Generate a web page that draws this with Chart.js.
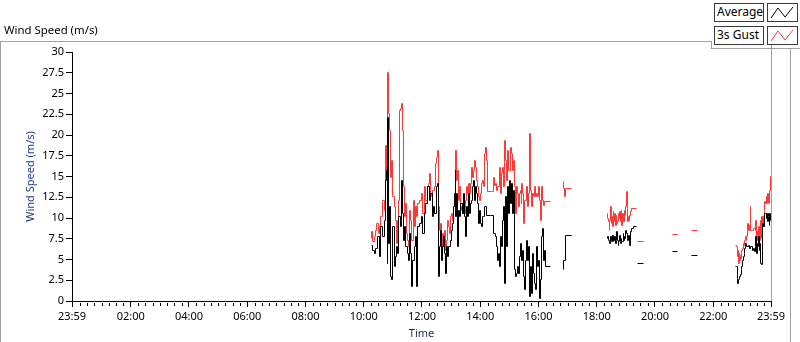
<!DOCTYPE html>
<html><head><meta charset="utf-8">
<script src="https://cdn.jsdelivr.net/npm/chart.js@4/dist/chart.umd.min.js"></script>
<style>
html,body{margin:0;padding:0;background:#fff;width:800px;height:342px;overflow:hidden;}
#wrap{position:relative;width:800px;height:342px;font-family:"Noto Sans",sans-serif;}
#c{position:absolute;left:0;top:0;}
#title{position:absolute;left:4px;top:22px;font-size:11.4px;line-height:16px;color:#000;white-space:nowrap;}
.ln{position:absolute;background:#a0a0a0;}
.lg{position:absolute;box-sizing:border-box;border:1px solid #3a3a3a;background:#fff;font-size:12px;line-height:16px;padding-left:2px;white-space:nowrap;color:#000;}
.ic{position:absolute;box-sizing:border-box;border:1px solid #3a3a3a;background:#fff;}
</style></head>
<body><div id="wrap">
<canvas id="c" width="800" height="342"></canvas>
<div id="title">Wind Speed (m/s)</div>
<div class="ln" style="left:0;top:41px;width:711px;height:1px"></div>
<div class="ln" style="left:0;top:41px;width:1px;height:301px"></div>
<div class="ln" style="left:711px;top:41px;width:1px;height:8px"></div>
<div class="ln" style="left:711px;top:48px;width:89px;height:1px"></div>
<div class="ln" style="left:790px;top:48px;width:1px;height:294px"></div>
<div class="lg" style="left:714px;top:3px;width:50px;height:19px">Average</div>
<div class="ic" style="left:767px;top:3px;width:31px;height:19px"><svg width="29" height="17"><polyline points="3,14 10,4 17,13 25,3" fill="none" stroke="#000" stroke-width="1"/></svg></div>
<div class="lg" style="left:714px;top:26px;width:50px;height:19px">3s Gust</div>
<div class="ic" style="left:767px;top:26px;width:31px;height:19px"><svg width="29" height="17"><polyline points="3,14 10,4 17,13 25,3" fill="none" stroke="#ff3838" stroke-width="1"/></svg></div>
</div>
<script>
// ---- data (time in minutes after midnight; null = no data) ----
const avgTime = [615,618,622,625,628,632,635,639,642,644,646,648,649,651,653,656,658,660,663,665,667,670,672,675,678,680,682,685,687,690,692,695,697,699,701,704,706,708,711,714,718,721,725,728,732,
735,738,741,743,746,749,751,753,754,756,758,761,763,765,767,769,771,773,775,778,780,782,785,787,789,790,792,794,796,798,800,803,805,807,809,811,814,816,818,820,822,825,827,829,831,833,835,837,839,841,843,845,847,849,852,
862,868,871,873,875,877,880,882,884,886,888,890,892,894,896,898,900,902,904,906,908,910,913,915,917,919,921,923,925,927,929,931,933,935,937,939,941,943,946,948,950,952,954,956,958,960,962,964,966,968,970,972,974,985,986,
1011,1012,1015,1027,1028,
1102,1103,1104,1106,1107,1109,1110,1111,1113,1114,1115,1117,1118,1120,1121,1122,1124,1125,1126,1128,1129,1131,1132,1133,1135,1136,1137,1139,1140,1142,1143,1144,1146,1147,1148,1150,1151,1155,1161,1162,
1165,1177,1178,1236,1246,1247,1275,1287,1288,
1366,1368,1370,1371,1373,1374,1375,1377,1378,1379,1381,1382,1384,1385,1386,1389,1392,1395,1397,1400,1403,1404,1407,1408,1410,1411,1412,1414,1415,1417,1418,1419,1421,1422,1423,1425,1428,1429,1430,1432,1433,1434,1435,1436,1437,1438,1439];
const avgValue = [6.8,6.2,5.8,6.4,7.8,5.4,9.0,7.8,9.8,14.6,15.8,4.6,22.2,7.0,11.4,3.0,2.6,9.0,4.2,5.4,6.6,5.8,10.2,9.0,14.6,10.6,7.4,9.0,6.6,5.8,5.0,8.2,5.8,1.8,5.0,6.6,7.8,1.8,9.0,9.4,10.2,8.2,10.6,11.8,13.8,
12.2,13.0,10.2,11.4,10.6,13.8,14.2,11.4,3.0,6.6,8.6,5.0,6.6,7.8,5.8,3.4,6.6,5.4,6.6,7.4,8.6,9.4,11.4,13.0,15.8,10.2,13.0,6.6,11.0,10.2,11.8,10.6,13.0,10.2,7.8,11.4,10.2,13.0,10.6,11.8,12.2,13.8,14.6,12.2,13.8,13.0,11.8,9.4,11.0,9.4,9.0,10.2,10.2,11.4,10.4,
10.4,8.2,7.8,6.6,5.0,5.8,4.2,7.8,6.6,9.8,11.4,2.2,12.6,6.6,13.8,10.6,14.6,11.8,14.2,10.6,13.4,3.8,3.0,3.4,4.2,3.4,5.4,7.0,5.0,6.2,3.0,1.4,5.0,7.4,5.0,6.6,0.6,4.2,1.0,5.8,3.4,2.2,1.4,6.6,4.2,5.0,0.4,2.6,7.8,8.8,5.0,6.2,4.2,4.2,null,
3.8,5.0,8.0,8.0,null,
7.6,7.8,7.4,7.2,7.0,7.8,7.4,7.2,8.0,7.2,7.4,7.8,7.0,7.4,8.4,7.4,6.8,7.2,8.0,7.2,7.0,7.6,7.2,7.2,8.2,7.4,7.8,7.6,8.6,8.2,7.6,7.4,8.0,7.0,6.8,8.4,8.8,9.0,9.0,null,
4.6,4.6,null,6.0,6.0,null,5.5,5.5,null,
4.2,4.2,2.8,2.2,2.6,2.8,3.0,3.2,3.8,4.2,5.0,5.4,5.8,6.4,7.0,6.6,6.7,6.4,6.6,6.2,6.4,6.0,6.6,7.8,5.8,7.0,6.6,7.8,6.2,7.0,4.6,4.4,6.2,9.4,9.0,10.6,10.6,10.0,10.6,9.6,10.2,10.6,9.2,9.8,10.6,10.6,9.8];

const gustTime = [615,617,619,622,625,627,630,633,635,639,642,644,646,649,651,654,656,658,660,663,665,667,669,671,673,675,677,679,681,684,686,688,690,693,695,697,699,702,704,706,708,711,714,718,721,725,728,732,
734,736,738,740,742,745,747,750,752,754,756,758,760,762,764,766,768,770,772,774,776,778,780,783,785,787,789,791,793,795,797,799,801,803,805,807,809,811,813,816,818,820,822,824,826,828,830,832,834,836,838,840,842,845,847,849,851,853,855,864,
866,868,870,872,874,876,879,881,883,885,887,889,891,893,895,897,899,902,904,906,908,910,912,914,916,918,920,922,924,926,928,930,932,935,937,939,941,943,946,948,950,952,954,956,958,960,962,964,966,968,970,972,985,986,
1011,1012,1013,1016,1027,1028,
1102,1103,1104,1106,1107,1109,1110,1111,1113,1114,1115,1117,1118,1120,1121,1122,1124,1125,1126,1128,1129,1131,1132,1133,1135,1136,1137,1139,1140,1142,1143,1144,1146,1147,1148,1150,1151,1161,1162,
1165,1177,1178,1236,1246,1247,1275,1287,1288,
1366,1368,1370,1371,1373,1374,1375,1377,1378,1379,1381,1382,1384,1385,1386,1388,1389,1390,1392,1393,1395,1396,1397,1400,1403,1407,1408,1410,1411,1412,1414,1415,1417,1418,1419,1421,1422,1423,1425,1426,1428,1429,1430,1432,1433,1434,1435,1436,1437,1439];
const gustValue = [7.6,8.4,7.2,7.8,8.6,9.4,8.2,9.0,10.2,12.2,11.0,18.8,15.8,27.6,22.6,20.6,15.0,17.0,12.6,11.4,9.8,7.0,9.8,12.2,23.0,23.2,23.8,20.6,13.8,10.2,11.8,8.2,7.4,6.6,11.0,9.8,7.4,12.2,9.0,11.4,10.2,11.8,12.2,13.0,10.6,13.8,12.2,13.8,
14.2,15.4,13.0,12.6,13.4,13.8,16.6,17.4,18.2,11.4,8.6,9.4,5.8,8.2,6.6,8.6,6.2,7.4,9.8,9.0,8.2,10.2,10.6,9.8,11.4,13.0,18.2,14.6,15.8,12.2,13.8,11.0,11.4,10.6,11.8,10.6,12.2,13.8,13.0,14.2,13.0,14.2,16.2,15.0,15.8,17.0,16.2,14.6,13.8,12.6,12.2,13.0,14.2,14.6,13.8,17.8,18.6,17.0,13.2,13.2,
13.2,15.0,14.0,14.2,13.4,13.8,16.2,13.0,15.4,16.2,13.8,15.8,19.4,17.0,14.6,18.2,15.8,18.6,17.8,15.8,17.0,13.8,10.6,13.8,13.0,11.4,13.0,13.4,11.8,14.2,13.0,9.4,12.2,13.8,11.4,13.0,20.2,13.4,11.4,13.0,12.6,13.8,12.6,13.0,12.6,13.8,12.2,9.8,13.8,12.2,11.6,12.0,12.0,null,
14.4,13.6,12.6,13.6,13.6,null,
10.6,10.0,9.6,8.6,9.8,11.4,9.4,10.2,9.0,10.8,9.6,10.6,9.2,10.4,9.4,9.6,10.6,10.0,10.8,9.6,10.4,11.0,9.2,10.6,10.2,9.6,11.0,10.4,11.4,13.2,11.2,9.6,10.2,9.8,10.4,10.8,11.2,11.2,null,
7.2,7.2,null,8.1,8.1,null,8.5,8.5,null,
6.7,6.6,5.4,6.2,4.6,5.8,5.0,5.6,5.2,6.2,6.4,7.0,6.8,7.4,7.8,7.4,7.8,9.4,8.6,8.6,9.2,11.4,8.6,8.6,8.8,8.6,9.8,7.4,8.4,7.8,9.0,7.4,9.8,7.6,10.2,7.0,10.2,9.0,11.0,12.0,11.8,12.6,11.8,13.0,11.8,12.4,11.8,13.4,15.1,15.1];

const xTickValues = [-1,120,240,360,480,600,720,840,960,1080,1200,1320,1439];
const xTickLabels = ['23:59','02:00','04:00','06:00','08:00','10:00','12:00','14:00','16:00','18:00','20:00','22:00','23:59'];
const yMin = 0, yMax = 30, yStep = 2.5;

const toPts = (ts, vs) => ts.map((t, i) => ({x: t, y: vs[i]}));
const FONT = {family: '"Noto Sans", sans-serif', size: 11};

// snap library-computed point positions to the pixel grid for crisp 1px steps
const crisp = {
  id: 'crisp',
  beforeDatasetsDraw(chart) {
    chart.data.datasets.forEach((d, i) => {
      chart.getDatasetMeta(i).data.forEach(el => {
        if (!el.skip) { el.x = Math.floor(el.x) + 0.5; el.y = Math.round(el.y) + 0.5; }
      });
    });
  }
};

const minorTicks = {
  id: 'minorTicks',
  afterDraw(chart) {
    const xs = chart.scales.x, ctx = chart.ctx, y0 = chart.chartArea.bottom;
    ctx.save();
    ctx.strokeStyle = '#000'; ctx.lineWidth = 1;
    ctx.beginPath();
    for (let m = 15; m < 1439; m += 15) {
      if (m % 120 === 0) continue;
      const px = Math.round(xs.getPixelForValue(m)) + 0.5;
      ctx.moveTo(px, y0 + 2); ctx.lineTo(px, y0 + 5);
    }
    ctx.stroke();
    const a = chart.chartArea;
    ctx.strokeStyle = '#a0a0a0';
    ctx.beginPath();
    ctx.moveTo(Math.round(a.right) + 0.5, a.top - 7);
    ctx.lineTo(Math.round(a.right) + 0.5, a.bottom);
    ctx.stroke();
    ctx.restore();
  }
};

new Chart(document.getElementById('c'), {
  type: 'line',
  data: {datasets: [
    {label: 'Average', data: toPts(avgTime, avgValue), borderColor: '#000', borderWidth: 1, pointRadius: 0, stepped: true, spanGaps: false, fill: false},
    {label: '3s Gust', data: toPts(gustTime, gustValue), borderColor: '#ff3838', borderWidth: 1, pointRadius: 0, stepped: true, spanGaps: false, fill: false}
  ]},
  options: {
    responsive: false, animation: false, events: [],
    layout: {padding: {left: 0, top: 52, right: 29, bottom: 0}},
    plugins: {legend: {display: false}, tooltip: {enabled: false}},
    scales: {
      x: {
        type: 'linear', min: xTickValues[0], max: xTickValues[xTickValues.length - 1],
        afterBuildTicks: s => { s.ticks = xTickValues.map(v => ({value: v})); },
        ticks: {autoSkip: false, maxRotation: 0, font: FONT, color: '#000', padding: 3,
          callback: (v, i) => xTickLabels[i]},
        grid: {drawOnChartArea: false, tickLength: 6, color: '#000'},
        border: {color: '#000'},
        title: {display: true, text: 'Time', font: FONT, color: '#1c2a4a', padding: {top: 0, bottom: 2}},
        afterFit: s => { s.height = 41; }
      },
      y: {
        min: yMin, max: yMax,
        ticks: {stepSize: yStep, font: FONT, color: '#000', padding: 2, callback: v => String(v)},
        grid: {drawOnChartArea: false, tickLength: 6, color: '#000'},
        border: {color: '#000'},
        title: {display: true, text: 'Wind Speed (m/s)', font: FONT, color: '#1f3b8f', padding: {top: 24, bottom: 0}},
        afterFit: s => { s.width = 72; }
      }
    }
  },
  plugins: [crisp, minorTicks]
});
</script>
</body></html>
